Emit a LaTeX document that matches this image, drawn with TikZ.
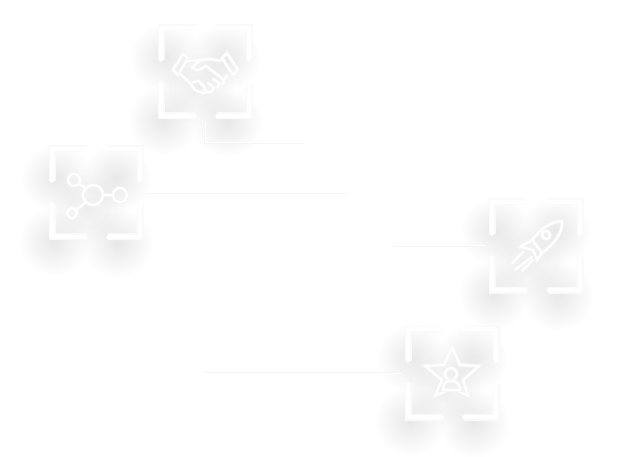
\documentclass[tikz,border=0pt]{standalone}
\usetikzlibrary{fadings}
\tikzfading[name=softblob, inner color=transparent!91, outer color=transparent!100]
\begin{document}
\begin{tikzpicture}[x=1pt,y=-1pt,
	framebox/.style = {shape=rectangle, minimum size=100pt, inner sep=0pt},
	blob/.style = {fill=black, path fading=softblob},
	neon/.style = {draw=white, line width=2pt, line join=round, line cap=round, preaction={draw=black!4, line width=3.6pt}},
	bracket/.style = {draw=white, line width=3.4pt, line join=round, line cap=round, preaction={draw=black!2, line width=7pt}},
	wire/.style = {draw=white, line width=1pt, preaction={draw=black!4, line width=2.6pt}},
	frame/.pic = {
		\fill[blob] (-40,-15) ellipse [x radius=36pt, y radius=34pt];
		\fill[blob] (20,-15) ellipse [x radius=36pt, y radius=34pt];
		\fill[blob] (-42,48) ellipse [x radius=36pt, y radius=35pt];
		\fill[blob] (22,50) ellipse [x radius=36pt, y radius=35pt];
		\fill[blob, opacity=0.8] (-8,16) ellipse [x radius=38pt, y radius=36pt];
		\draw[bracket] (-44,-12) -- (-44,-44) -- (-10,-44);
		\draw[bracket] (12,-44) -- (44,-44) -- (44,-12);
		\draw[bracket] (-44,11) -- (-44,44) -- (-10,44);
		\draw[bracket] (12,44) -- (44,44) -- (44,11);
	}]
\useasboundingbox (0,0) rectangle (632,457);
\fill[white] (0,0) rectangle (632,457);
\node (hand) [framebox] at (205,72) {};
\node (hub) [framebox] at (96,193) {};
\node (rocket) [framebox] at (536,246) {};
\node (star) [framebox] at (452,373) {};
\coordinate (handend) at (305,143);
\coordinate (hubend) at (348,193);
\coordinate (rocketend) at (393,246);
\coordinate (starend) at (205,373);
\pic at (hand.center) {frame};
\pic at (hub.center) {frame};
\pic at (rocket.center) {frame};
\pic at (star.center) {frame};
\draw[wire] (hand.south) |- (handend);
\draw[wire] (hub.east) -- (hubend);
\draw[wire] (rocket.west) -- (rocketend);
\draw[wire] (star.west) -- (starend);
\begin{scope}[shift={(hand.center)}]
	\draw[neon] (-32,-2) -- (-22,-18) -- (-17,-14) -- (-27,3) -- cycle;
	\draw[neon] (17,-14) -- (22,-19) -- (33,-2) -- (28,3) -- cycle;
	\draw[neon] (-18,-11) -- (-4,-12) -- (-13,-5) .. controls (-10,0) and (-4,-2) .. (1,-6) -- (19,8) .. controls (21,11) and (17,13) .. (14,11) -- (8,7);
	\draw[neon] (-4,-12) -- (6,-13) -- (16,-11);
	\draw[neon] (22,3) -- (19,8);
	\draw[neon] (-26,1) -- (-14,12) -- (-10,18) -- (-3,21) -- (0,16) -- (-6,9) -- (-12,10);
	\draw[neon] (14,11) .. controls (15,15) and (11,17) .. (8,15) -- (3,11);
	\draw[neon] (8,15) .. controls (9,19) and (6,21) .. (3,20) -- (-1,17);
	\draw[neon] (-3,21) -- (3,20);
\end{scope}
\begin{scope}[shift={(hub.center)}]
	\draw[neon] (-3,2) circle [radius=10pt];
	\draw[neon] (-22,-13) circle [radius=6pt];
	\draw[neon] (24,2) circle [radius=7pt];
	\draw[neon] (-24,20) circle [radius=5pt];
	\draw[neon] (-17,-9) -- (-10,-5);
	\draw[neon] (7,2) -- (17,2);
	\draw[neon] (-20,17) -- (-10,9);
\end{scope}
\begin{scope}[shift={(rocket.center)}]
	\draw[neon] (26,-25) .. controls (14,-25) and (3,-15) .. (-4,-6) -- (6,7) .. controls (16,0) and (27,-12) .. cycle;
	\draw[neon] (10,-11) circle [radius=4pt];
	\draw[neon] (-4,-6) -- (-16,1) -- (-3,4) -- (1,14) -- (6,7);
	\draw[neon] (-24,17) -- (-13,6);
	\draw[neon] (-21,24) -- (-4,11);
	\draw[neon] (-14,25) -- (-3,14);
\end{scope}
\begin{scope}[shift={(star.center)}]
	\draw[neon] (-4,17) -- (-17,23) -- (-10,7) -- (-27,-7) -- (-8,-8) -- (0,-26) -- (8,-8) -- (27,-7) -- (11,7) -- (16,23) -- (4,17);
	\draw[neon] (-1,1) circle [radius=6pt];
	\draw[neon] (-9,17) .. controls (-9,11) and (-6,9) .. (-4,8) -- (2,8) .. controls (5,9) and (8,12) .. (8,17) -- cycle;
\end{scope}
\end{tikzpicture}
\end{document}
